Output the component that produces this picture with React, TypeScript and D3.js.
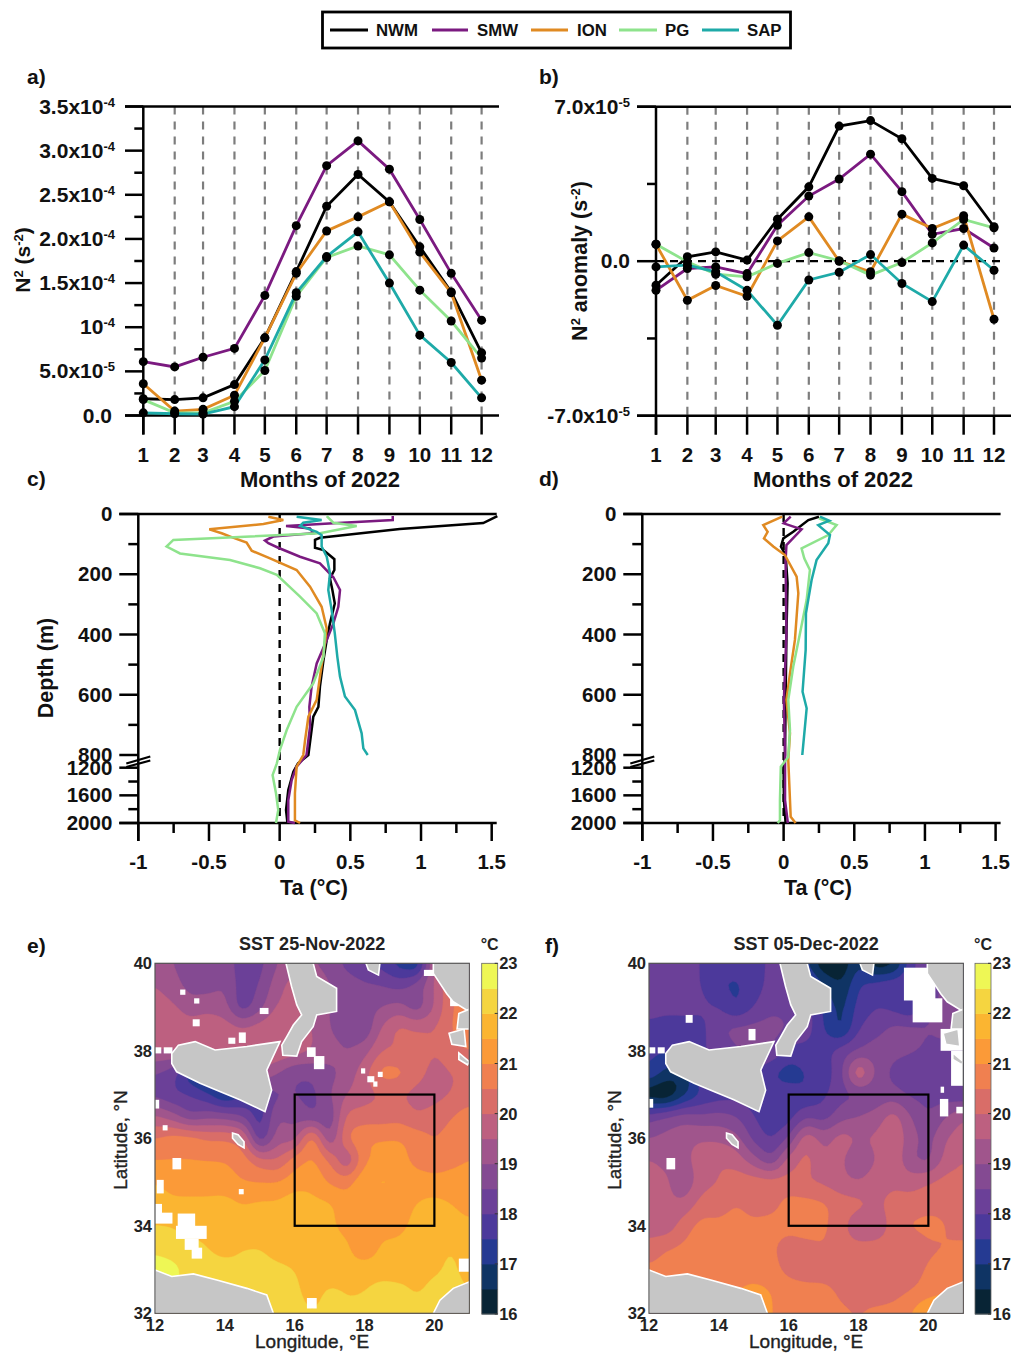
import React from "react";
import * as d3 from "d3";

const FONT = "'Liberation Sans', Arial, sans-serif";
const seriesNames = ["NWM", "SMW", "ION", "PG", "SAP"];
const seriesColors = ["#000000", "#7b1a80", "#e08a22", "#8ee38c", "#1eaaa8"];
const months = [1, 2, 3, 4, 5, 6, 7, 8, 9, 10, 11, 12];
const monthDays = [0, 31, 59, 90, 120, 151, 181, 212, 243, 273, 304, 334];

// Panel a, N2 in units of 1e-4 s-2
const a_NWM = [0.19, 0.18, 0.2, 0.35, 0.88, 1.63, 2.37, 2.73, 2.42, 1.91, 1.4, 0.71];
const a_SMW = [0.61, 0.55, 0.66, 0.76, 1.36, 2.15, 2.83, 3.11, 2.79, 2.22, 1.61, 1.08];
const a_ION = [0.36, 0.05, 0.07, 0.23, 0.88, 1.61, 2.09, 2.25, 2.42, 1.85, 1.39, 0.4];
const a_PG = [0.18, 0.03, 0.03, 0.16, 0.51, 1.35, 1.79, 1.92, 1.82, 1.42, 1.07, 0.65];
const a_SAP = [0.03, 0.02, 0.015, 0.1, 0.63, 1.39, 1.8, 2.08, 1.5, 0.91, 0.6, 0.2];

// Panel b, N2 anomaly in units of 1e-5 s-2
const b_NWM = [-1.09, 0.2, 0.42, 0.05, 1.9, 3.37, 6.12, 6.37, 5.55, 3.75, 3.42, 1.56];
const b_SMW = [-1.32, -0.33, -0.26, -0.56, 1.63, 2.95, 3.72, 4.85, 3.15, 1.22, 1.48, 0.6];
const b_ION = [0.77, -1.77, -1.1, -1.59, 0.92, 2.01, 0.0, -0.48, 2.13, 1.48, 2.06, -2.63];
const b_PG = [0.77, -0.03, -0.59, -0.71, -0.1, 0.39, 0.02, -0.63, -0.06, 0.83, 1.89, 1.51];
const b_SAP = [-0.26, -0.18, -0.48, -1.32, -2.9, -0.85, -0.5, 0.3, -1.01, -1.83, 0.73, -0.41];

// Panels c, d: [Ta, depth]
const c_NWM = [[1.54, 7], [1.44, 30], [0.85, 50], [0.285, 79], [0.25, 86], [0.25, 112], [0.31, 120], [0.387, 150], [0.387, 186], [0.356, 214], [0.373, 252], [0.39, 297], [0.356, 363], [0.333, 418], [0.31, 485], [0.285, 573], [0.274, 640], [0.238, 673], [0.203, 800], [0.13, 1063], [0.097, 1258], [0.061, 1523], [0.045, 1812], [0.054, 1980], [0.06, 2000]];
const c_SMW = [[0.8, 7], [0.8, 20], [0.38, 31], [0.045, 40], [0.215, 48], [0.238, 64], [-0.045, 75], [-0.104, 88], [-0.08, 97], [-0.01, 112], [0.144, 142], [0.285, 164], [0.38, 210], [0.427, 252], [0.415, 308], [0.38, 363], [0.333, 418], [0.262, 496], [0.226, 573], [0.21, 640], [0.215, 706], [0.19, 800], [0.12, 1170], [0.085, 1380], [0.061, 1670], [0.061, 1980], [0.108, 2000]];
const c_ION = [[-0.08, 9], [0.026, 20], [-0.115, 33], [-0.498, 51], [-0.41, 64], [-0.34, 77], [-0.234, 95], [-0.198, 122], [-0.068, 147], [0.12, 186], [0.215, 241], [0.297, 308], [0.333, 380], [0.31, 463], [0.285, 540], [0.262, 617], [0.203, 673], [0.18, 750], [0.167, 800], [0.12, 1170], [0.108, 1570], [0.108, 1960], [0.144, 2000]];
const c_PG = [[0.333, 7], [0.38, 29], [0.545, 40], [0.285, 64], [-0.752, 86], [-0.8, 108], [-0.705, 131], [-0.351, 153], [-0.139, 180], [-0.02, 202], [0.144, 274], [0.262, 330], [0.32, 396], [0.31, 474], [0.238, 562], [0.12, 640], [0.05, 717], [0.002, 783], [-0.02, 1063], [-0.05, 1306], [-0.026, 1570], [-0.01, 1812], [-0.026, 2000]];
const c_SAP = [[0.12, 9], [0.297, 20], [0.167, 29], [0.144, 40], [0.262, 59], [0.297, 70], [0.297, 108], [0.333, 142], [0.356, 197], [0.344, 252], [0.368, 319], [0.39, 396], [0.408, 474], [0.427, 540], [0.462, 606], [0.533, 651], [0.58, 728], [0.592, 778], [0.623, 800]];

const d_NWM = [[0.25, 9], [0.175, 20], [0.068, 59], [-0.002, 81], [-0.019, 108], [0.014, 136], [0.028, 230], [0.02, 396], [0.014, 617], [0.01, 800], [0.0, 1235], [0.002, 1670], [0.014, 2000]];
const d_SMW = [[0.05, 9], [0.0, 31], [0.127, 51], [0.02, 103], [0.014, 153], [0.02, 396], [0.002, 617], [0.01, 800], [0.01, 1670], [0.03, 2000]];
const d_ION = [[-0.01, 9], [-0.144, 37], [-0.113, 59], [-0.139, 81], [-0.073, 108], [0.009, 136], [0.092, 208], [0.104, 263], [0.08, 418], [0.045, 529], [0.02, 617], [0.045, 728], [0.033, 960], [0.04, 1426], [0.05, 1910], [0.085, 2000]];
const d_PG = [[0.25, 14], [0.375, 37], [0.316, 70], [0.127, 114], [0.146, 147], [0.186, 186], [0.163, 285], [0.116, 396], [0.068, 507], [0.033, 617], [0.045, 717], [0.033, 860], [-0.02, 1170], [-0.026, 1670], [-0.026, 1960], [-0.042, 2000]];
const d_SAP = [[0.257, 9], [0.323, 22], [0.245, 37], [0.328, 70], [0.316, 97], [0.233, 153], [0.198, 219], [0.158, 330], [0.156, 451], [0.134, 590], [0.163, 645], [0.151, 706], [0.132, 800]];

// SST colour classes, 16 to 23 °C in 0.5 °C steps
const sstThresholds = [16, 16.5, 17, 17.5, 18, 18.5, 19, 19.5, 20, 20.5, 21, 21.5, 22, 22.5];
const sstColors = ["#082435", "#0f3464", "#253a92", "#4c399b", "#6b4098", "#844a92", "#a0558c", "#bd6080", "#d96d68", "#f08050", "#fb9a38", "#fbb531", "#f5d540", "#eef755"];

// SST grids: rows lat 40..32 every 0.5°, columns lon 12..21 every 0.5°
const sstNov = [
  [19.2, 19, 18.7, 18.5, 18.8, 18.2, 18.3, 19, 19.2, 19, 18.8, 18.3, 18, 17.8, 17.2, 16.8, 19.7, 20.5, 20],
  [19.5, 19.2, 18.8, 18.8, 19, 18.2, 18.5, 19.3, 19.8, 19.5, 19, 18.8, 18.6, 18.5, 18.3, 18.8, 19.5, 20.5, 20.5],
  [19.8, 19.6, 19.2, 19.3, 19.2, 18.1, 18.8, 19.6, 19.6, 19.2, 19, 18.7, 18.8, 19, 19.2, 18.6, 19.5, 20.5, 20.8],
  [20, 20, 19.8, 20, 19.8, 19.6, 19.8, 20, 20, 19.5, 19, 18.6, 18.5, 19.6, 20.2, 20, 20, 20.5, 21],
  [19.5, 19.5, 19.8, 20, 20, 20, 20, 20, 19.8, 19.5, 19.3, 19, 19.3, 20, 20, 20.3, 20, 20.3, 20.5],
  [18.5, 18.2, 17, 16.3, 16.5, 19, 19.5, 19, 18.5, 18.6, 18.8, 19.2, 19.8, 20.8, 20.7, 20.2, 19.8, 20, 20],
  [18.3, 18, 18, 17.6, 16.8, 17.3, 18, 18.4, 18.5, 18.3, 19, 19.5, 19.8, 20, 20, 19.8, 19.8, 20, 20.2],
  [19.6, 19.2, 18.5, 18.8, 18.8, 18.5, 17.6, 19, 18.8, 18.5, 18.5, 20.2, 20.2, 20.2, 20.3, 20, 20.2, 20.5, 20.8],
  [20.5, 20.8, 20.8, 20.5, 20.5, 20.3, 17.9, 19.3, 19.2, 21, 18.8, 20.6, 21, 21, 21, 20.8, 20.5, 20.7, 20.8],
  [21, 21, 21, 21, 21, 20.8, 20.2, 20, 20.8, 21.1, 20.5, 19.3, 20.9, 21.2, 21.3, 20.7, 20.5, 20.8, 21],
  [21.5, 21.3, 21.3, 21.3, 21.2, 21, 21, 21, 21.3, 21.4, 20.9, 20.8, 21.5, 21.6, 21.5, 21.4, 21.3, 21.3, 21.3],
  [21.8, 21.6, 21.6, 21.6, 21.7, 21.5, 21.6, 21.6, 21.8, 21.6, 21.6, 21.2, 21.6, 21.2, 21.4, 21.5, 21.6, 21.5, 21.3],
  [22, 22, 21.8, 21.8, 21.7, 21.7, 21.7, 21.8, 22, 22, 21.6, 21.3, 21.5, 21.3, 21.4, 21.6, 21.7, 21.7, 21.6],
  [22.3, 22.2, 22.2, 22, 21.8, 22, 22, 21.8, 21.8, 21.8, 21.8, 21.6, 21, 21.6, 21.6, 21.7, 21.9, 22, 21.8],
  [22.9, 22.7, 22.3, 22.2, 22.2, 22.1, 22.2, 22.1, 22, 21.8, 21.7, 21.7, 21.8, 21.8, 21.7, 21.8, 21.9, 22.1, 21.8],
  [22.4, 22.4, 22.4, 22.4, 22.4, 22.5, 22.4, 22.3, 22.1, 21.8, 22.1, 22, 22, 22.2, 22.2, 21.9, 22.2, 22.2, 22],
  [22.4, 22.4, 22.4, 22.4, 22.4, 22.4, 22.3, 22.3, 22.2, 22, 22.2, 22, 22.1, 22.3, 22.3, 22.4, 22.3, 22.3, 22.2],
];
const sstDec = [
  [18.2, 18.1, 18.1, 18, 17.7, 17.7, 17.8, 18.1, 18.3, 17, 16, 16, 17, 16, 16.2, 17.8, 18.5, 18.5, 18.5],
  [18.3, 18.2, 18.2, 18, 17.5, 17.4, 17.7, 18.2, 18.4, 18, 17, 16.5, 17.5, 17.8, 18, 18, 18.5, 18.5, 18.5],
  [18.4, 18.3, 18.4, 18.1, 18, 17.4, 18, 18.4, 18.4, 18.3, 17.4, 16.8, 17.7, 18, 17.8, 17.4, 18.5, 18.5, 18.5],
  [17.7, 17.5, 17.4, 17.8, 18.5, 18.7, 18.7, 18.7, 18.5, 18.3, 17.5, 16.8, 18, 18.3, 18.7, 18.7, 18.5, 18.7, 18.5],
  [17.6, 17.6, 18, 18, 18, 18.5, 18.5, 18.5, 17.8, 17.8, 17.8, 18.3, 18.5, 18.8, 18.7, 18.6, 18.4, 18.3, 18.3],
  [17.5, 16.8, 16.5, 18, 18, 18, 18, 17.5, 17.2, 17.5, 17.7, 18.3, 20.3, 18.9, 18.3, 18, 18, 18.2, 18.2],
  [16, 15.8, 16.8, 17.5, 17.7, 17.8, 17.7, 17.7, 17.8, 17.5, 17.9, 18.3, 18.4, 18.6, 18.7, 18.4, 18.3, 18.2, 18],
  [18.3, 18.6, 18.8, 18.6, 18.7, 18.5, 18, 17.6, 17.7, 18.4, 18.2, 18.8, 19, 19.2, 19.8, 19, 18.5, 19, 19.5],
  [19, 19.2, 19.4, 19.5, 19.4, 19.2, 18.3, 17.9, 18.5, 20, 19.3, 19.8, 19.5, 19.6, 20, 19.2, 18.8, 19.5, 19.8],
  [19.5, 19.3, 19.4, 19.7, 20, 19.8, 19.2, 18.5, 19.8, 20.2, 19.6, 19.6, 19, 19.5, 19.9, 19, 18.8, 19.7, 20],
  [20, 19.6, 19, 19.8, 20, 20.3, 20.3, 20.3, 20.2, 20, 19.9, 19.6, 19.5, 19.8, 19.9, 19.8, 20, 20.2, 20.2],
  [20, 19.6, 19.6, 20.2, 20.3, 20.5, 20.3, 20.3, 20.7, 20.7, 20.6, 20.3, 20.2, 19.9, 20.2, 20.2, 20.3, 20.4, 20.3],
  [19.7, 19.6, 20.3, 20.7, 20.6, 20.7, 20.6, 20.7, 20.7, 20.8, 20.6, 20.2, 19.5, 19.6, 20.2, 20.6, 20.7, 20.5, 20.3],
  [20.2, 20.5, 20.6, 20.7, 20.7, 20.6, 20.6, 20.6, 20.2, 20.3, 20.5, 20.2, 20.2, 20.2, 20.2, 20, 20.4, 20.5, 20.6],
  [20.6, 20.7, 20.7, 20.7, 20.7, 20.7, 20.7, 20.7, 20.3, 20.2, 20.2, 20.2, 20.2, 20.3, 20.3, 20.2, 20.6, 20.7, 20.7],
  [20.8, 20.8, 20.8, 20.8, 20.8, 21, 21.2, 21, 20.8, 20.7, 20.7, 20.4, 20.2, 20.1, 20.3, 20.5, 20.7, 20.9, 21.1],
  [21, 21, 21, 21, 21, 21.2, 21.6, 21, 20.7, 20.7, 20.7, 20.6, 20.5, 20.7, 20.7, 21, 21.7, 21.7, 21.5],
];

// Land outlines as [lon, lat]
const landCalabria = [[15.75, 40], [15.91, 39.47], [16.06, 39.05], [16.2, 38.82], [15.96, 38.59], [15.77, 38.32], [15.63, 38.13], [15.66, 37.9], [16.06, 37.88], [16.2, 38.21], [16.53, 38.55], [16.63, 38.82], [17.2, 38.9], [17.2, 39.43], [16.63, 39.7], [16.53, 40]];
const landSalento = [[18.04, 40], [18.11, 39.85], [18.4, 39.73], [18.44, 40]];
const landSicily = [[12.48, 37.94], [12.67, 38.13], [13.15, 38.21], [13.72, 38.02], [14.63, 38.1], [15.58, 38.21], [15.2, 37.56], [15.34, 37.1], [15.15, 36.61], [14.43, 36.88], [13.77, 37.1], [13.29, 37.26], [12.62, 37.52], [12.48, 37.71]];
const landLibyaW = [[12, 32.99], [12.48, 32.84], [13.1, 32.9], [13.77, 32.76], [14.63, 32.57], [15.2, 32.42], [15.39, 32], [12, 32]];
const landLibyaE = [[19.97, 32], [20.16, 32.3], [20.54, 32.57], [21, 32.72], [21, 32]];
const landGreece = [[19.97, 40], [19.97, 39.77], [20.35, 39.31], [20.54, 39.12], [20.93, 38.93], [21, 38.93], [21, 40]];
const landMalta = [[14.22, 36.12], [14.38, 36.08], [14.55, 35.92], [14.55, 35.78], [14.38, 35.86], [14.22, 36]];
const landKefalonia = [[20.42, 38.4], [20.85, 38.5], [20.9, 38.1], [20.5, 38.15]];
const landZante = [[20.7, 37.95], [21, 37.75], [20.95, 37.68], [20.7, 37.8]];
const landLefkada = [[20.7, 38.85], [21, 38.95], [21, 38.5], [20.65, 38.5]];
const landAll = [landCalabria, landSalento, landSicily, landLibyaW, landLibyaE, landGreece, landMalta, landKefalonia, landZante, landLefkada];

// Cloud-masked patches as [lon, lat (top), dLon, dLat]
const cloudNov = [[12.72, 39.4, 0.15, 0.12], [13.12, 39.2, 0.15, 0.12], [13.08, 38.72, 0.2, 0.16], [15.0, 38.98, 0.25, 0.14], [14.4, 38.42, 0.2, 0.24], [14.1, 38.3, 0.2, 0.14], [12.0, 38.08, 0.18, 0.14], [12.25, 38.08, 0.25, 0.14], [16.35, 38.08, 0.25, 0.22], [16.55, 37.88, 0.3, 0.3], [17.9, 37.6, 0.12, 0.12], [18.08, 37.42, 0.2, 0.14], [18.38, 37.52, 0.14, 0.12], [18.25, 37.3, 0.12, 0.12], [12, 36.88, 0.12, 0.2], [12.22, 36.3, 0.14, 0.12], [12.5, 35.55, 0.25, 0.26], [12.05, 35.05, 0.2, 0.31], [14.4, 34.84, 0.14, 0.12], [12, 34.5, 0.2, 0.3], [12, 34.3, 0.5, 0.25], [12.65, 34.28, 0.5, 0.3], [12.6, 34, 0.88, 0.3], [12.85, 33.7, 0.4, 0.25], [13.05, 33.5, 0.3, 0.25], [20.7, 33.25, 0.3, 0.3], [16.35, 32.35, 0.28, 0.24], [19.7, 39.85, 0.3, 0.14], [20.45, 39.22, 0.25, 0.2]];
const cloudDec = [[12.0, 38.08, 0.18, 0.14], [12.25, 38.08, 0.2, 0.14], [13.05, 38.82, 0.2, 0.18], [14.85, 38.5, 0.2, 0.26], [12, 36.9, 0.12, 0.2], [12.5, 35.55, 0.25, 0.26], [19.3, 39.9, 0.9, 0.75], [19.55, 39.2, 0.85, 0.55], [20.35, 38.5, 0.65, 0.5], [20.65, 38, 0.35, 0.8], [20.35, 37.18, 0.1, 0.14], [20.33, 36.9, 0.24, 0.4], [20.8, 36.72, 0.2, 0.15]];

const yearTicksA = [0, 0.5, 1, 1.5, 2, 2.5, 3, 3.5];
const depthMajor = [0, 200, 400, 600, 800, 1200, 1600, 2000];
const depthMinor = [100, 300, 500, 700, 1400, 1800];
const taMajor = [-1, -0.5, 0, 0.5, 1, 1.5];
const taMinor = [-0.75, -0.25, 0.25, 0.75, 1.25];
const lonTicks = [12, 14, 16, 18, 20];
const latTicks = [32, 34, 36, 38, 40];
const barTicks = [16, 17, 18, 19, 20, 21, 22, 23];

const INK = "#111";
const AXW = 2.5;

const Sci = ({ x, y, base, exp, size = 21 }: any) => (
  <text x={x} y={y} textAnchor="end" fontFamily={FONT} fontWeight="bold" fontSize={size} fill={INK}>
    {base}
    {exp && <tspan dy={-7} fontSize={size * 0.62}>{exp}</tspan>}
  </text>
);

const MonthPanel = ({ left, right, x0, x1, yTop, yBot, domain, data, ticks, zero }: any) => {
  const x = d3.scaleLinear().domain([0, 334]).range([x0, x1]);
  const y = d3.scaleLinear().domain(domain).range([yBot, yTop]);
  const line = d3.line<number>().x((_, i) => x(monthDays[i])).y((v) => y(v));
  return (
    <g>
      {months.slice(1).map((m, i) => (
        <line key={m} x1={x(monthDays[i + 1])} x2={x(monthDays[i + 1])} y1={yTop} y2={yBot} stroke="#7d7d7d" strokeWidth={2.2} strokeDasharray="8 7" />
      ))}
      {zero && <line x1={x0} x2={right - 5} y1={y(0)} y2={y(0)} stroke="#000" strokeWidth={2.2} strokeDasharray="8 6" />}
      <line x1={left} x2={right} y1={yTop} y2={yTop} stroke="#000" strokeWidth={AXW} />
      <line x1={left} x2={right} y1={yBot} y2={yBot} stroke="#000" strokeWidth={AXW} />
      <line x1={x0} x2={x0} y1={yTop} y2={yBot + 19} stroke="#000" strokeWidth={AXW} />
      {ticks.map((t: any) => (
        <line key={t.v} x1={t.major ? left : x0 - 9} x2={x0} y1={y(t.v)} y2={y(t.v)} stroke="#000" strokeWidth={AXW} />
      ))}
      {months.map((m, i) => (
        <g key={m}>
          <line x1={x(monthDays[i])} x2={x(monthDays[i])} y1={yBot} y2={yBot + 19} stroke="#000" strokeWidth={AXW} />
          <text x={x(monthDays[i])} y={yBot + 46} textAnchor="middle" fontFamily={FONT} fontWeight="bold" fontSize={20.5} fill={INK}>{m}</text>
        </g>
      ))}
      {data.map((s: number[], i: number) => (
        <path key={i} d={line(s) || ""} fill="none" stroke={seriesColors[i]} strokeWidth={2.8} />
      ))}
      {data.map((s: number[], i: number) =>
        s.map((v, j) => <circle key={`${i}-${j}`} cx={x(monthDays[j])} cy={y(v)} r={4.5} fill="#000" />)
      )}
    </g>
  );
};

const ProfilePanel = ({ x0, x1, data }: any) => {
  const top = 514;
  const x = d3.scaleLinear().domain([-1, 1.5]).range([x0, x1]);
  const y = d3.scaleLinear().domain([0, 800, 1200, 2000]).range([top, 755, 767.7, 823]);
  const line = d3.line<number[]>().x((d) => x(d[0])).y((d) => y(d[1]));
  return (
    <g>
      <line x1={x(0)} x2={x(0)} y1={top} y2={823} stroke="#000" strokeWidth={2.4} strokeDasharray="8 6" />
      <line x1={x0 - 19} x2={x1 + 5} y1={top} y2={top} stroke="#000" strokeWidth={AXW} />
      <line x1={x0 - 19} x2={x1 + 5} y1={823} y2={823} stroke="#000" strokeWidth={AXW} />
      <line x1={x0} x2={x0} y1={top} y2={841} stroke="#000" strokeWidth={AXW} />
      {depthMajor.map((d) => (
        <g key={d}>
          <line x1={x0 - 19} x2={x0} y1={y(d)} y2={y(d)} stroke="#000" strokeWidth={AXW} />
          <text x={x0 - 26} y={y(d) + 7} textAnchor="end" fontFamily={FONT} fontWeight="bold" fontSize={20.5} fill={INK}>{d}</text>
        </g>
      ))}
      {depthMinor.map((d) => (
        <line key={d} x1={x0 - 10} x2={x0} y1={y(d)} y2={y(d)} stroke="#000" strokeWidth={AXW} />
      ))}
      {taMajor.map((t) => (
        <g key={t}>
          <line x1={x(t)} x2={x(t)} y1={823} y2={841} stroke="#000" strokeWidth={AXW} />
          <text x={x(t)} y={869} textAnchor="middle" fontFamily={FONT} fontWeight="bold" fontSize={20.5} fill={INK}>{t}</text>
        </g>
      ))}
      {taMinor.map((t) => (
        <line key={t} x1={x(t)} x2={x(t)} y1={823} y2={833} stroke="#000" strokeWidth={AXW} />
      ))}
      <line x1={x0 - 12} x2={x0 + 12} y1={763.5} y2={756.5} stroke="#000" strokeWidth={2.2} />
      <line x1={x0 - 12} x2={x0 + 12} y1={767} y2={760.5} stroke="#000" strokeWidth={2.2} />
      {data.map((s: number[][], i: number) => (
        <path key={i} d={line(s) || ""} fill="none" stroke={seriesColors[i]} strokeWidth={2.5} />
      ))}
    </g>
  );
};

// Resample the read grid by a factor k and soften it so the filled bands follow rounded contours.
const K = 5;
function smoothField(grid: number[][]) {
  const rows = grid.length, cols = grid[0].length;
  const W = (cols - 1) * K + 1, H = (rows - 1) * K + 1;
  const data = new Float64Array(W * H);
  for (let j = 0; j < H; j++) {
    const gy = j / K, y0 = Math.min(Math.floor(gy), rows - 2), fy = gy - y0;
    for (let i = 0; i < W; i++) {
      const gx = i / K, x0 = Math.min(Math.floor(gx), cols - 2), fx = gx - x0;
      data[j * W + i] =
        grid[y0][x0] * (1 - fx) * (1 - fy) + grid[y0][x0 + 1] * fx * (1 - fy) +
        grid[y0 + 1][x0] * (1 - fx) * fy + grid[y0 + 1][x0 + 1] * fx * fy;
    }
  }
  d3.blur2({ data, width: W, height: H }, 0.9);
  return { data, W, H };
}

const SstMap = ({ px0, px1, grid, clouds, id, title, cbX }: any) => {
  const x = d3.scaleLinear().domain([12, 21]).range([px0, px1]);
  const y = d3.scaleLinear().domain([32, 40]).range([1313.3, 963.3]);
  const f = smoothField(grid);
  const contours = d3.contours().size([f.W, f.H]).thresholds(sstThresholds)(Array.from(f.data));
  const proj = d3.geoTransform({
    point(cx: number, cy: number) {
      // @ts-ignore
      this.stream.point(x(12 + ((cx - 0.5) / K) * 0.5), y(40 - ((cy - 0.5) / K) * 0.5));
    },
  });
  const path = d3.geoPath(proj);
  const poly = d3.line<number[]>().x((d) => x(d[0])).y((d) => y(d[1]));
  const barY = d3.scaleLinear().domain([16, 23]).range([1314, 963.3]);
  const boxX0 = x(16), boxX1 = x(20), boxY0 = y(37), boxY1 = y(34);
  return (
    <g>
      <defs>
        <clipPath id={id}><rect x={px0} y={963.3} width={px1 - px0} height={350} /></clipPath>
      </defs>
      <g clipPath={`url(#${id})`}>
        <rect x={px0} y={963.3} width={px1 - px0} height={350} fill={sstColors[0]} />
        {contours.map((c: any, i: number) => (
          <path key={i} d={path(c) || ""} fill={sstColors[i]} stroke={sstColors[i]} strokeWidth={0.4} />
        ))}
        {clouds.map((c: number[], i: number) => (
          <rect key={i} x={x(c[0])} y={y(c[1])} width={x(c[0] + c[2]) - x(c[0])} height={y(c[1] - c[3]) - y(c[1])} fill="#fff" />
        ))}
        {landAll.map((p, i) => (
          <path key={i} d={(poly(p) || "") + "Z"} fill="#c6c6c6" stroke="#fff" strokeWidth={1.6} />
        ))}
      </g>
      <rect x={px0} y={963.3} width={px1 - px0} height={350} fill="none" stroke="#555" strokeWidth={1.2} />
      <rect x={boxX0} y={boxY0} width={boxX1 - boxX0} height={boxY1 - boxY0} fill="none" stroke="#000" strokeWidth={2.2} />
      <text x={(px0 + px1) / 2} y={950} textAnchor="middle" fontFamily={FONT} fontSize={18} fontWeight="bold" fill="#222">{title}</text>
      {latTicks.map((t) => (
        <text key={t} x={px0 - 3} y={y(t) + 6} textAnchor="end" fontFamily={FONT} fontWeight="bold" fontSize={16.5} fill="#222">{t}</text>
      ))}
      {lonTicks.map((t) => (
        <text key={t} x={x(t)} y={1331} textAnchor="middle" fontFamily={FONT} fontWeight="bold" fontSize={16.5} fill="#222">{t}</text>
      ))}
      <text transform={`translate(${px0 - 28},1140) rotate(-90)`} textAnchor="middle" fontFamily={FONT} fontSize={19} stroke="#222" strokeWidth={0.35} fill="#222">Latitude, °N</text>
      <text x={(px0 + px1) / 2} y={1348} textAnchor="middle" fontFamily={FONT} fontSize={19} stroke="#222" strokeWidth={0.35} fill="#222">Longitude, °E</text>
      {sstColors.map((c, i) => (
        <rect key={c} x={cbX} y={barY(sstThresholds[i] + 0.5)} width={16} height={barY(sstThresholds[i]) - barY(sstThresholds[i] + 0.5) + 0.5} fill={c} />
      ))}
      <rect x={cbX} y={963.3} width={16} height={350.7} fill="none" stroke="#666" strokeWidth={0.8} />
      {barTicks.map((t) => (
        <g key={t}>
          <line x1={cbX + 13} x2={cbX + 16} y1={barY(t)} y2={barY(t)} stroke="#333" strokeWidth={1} />
          <text x={cbX + 17.5} y={barY(t) + 6} fontFamily={FONT} fontWeight="bold" fontSize={16.5} fill="#222">{t}</text>
        </g>
      ))}
      <text x={cbX + 8} y={950} textAnchor="middle" fontFamily={FONT} fontWeight="bold" fontSize={16} fill="#222">°C</text>
    </g>
  );
};

const Label = ({ x, y, t }: any) => (
  <text x={x} y={y} fontFamily={FONT} fontWeight="bold" fontSize={21} fill={INK}>{t}</text>
);

const legendItems = [
  { line: [330, 368], text: 376 },
  { line: [432, 468], text: 477 },
  { line: [531, 568], text: 577 },
  { line: [619, 657], text: 665 },
  { line: [702, 739], text: 747 },
];

export default function App() {
  const ticksA = d3.range(0, 3.75, 0.25).map((v) => ({ v, major: Math.abs(v / 0.5 - Math.round(v / 0.5)) < 1e-6 }));
  const ticksB = [-7, -3.5, 0, 3.5, 7].map((v) => ({ v, major: v % 7 === 0 }));
  const yA = d3.scaleLinear().domain([0, 3.5]).range([415.5, 106.5]);
  return (
    <svg width={1014} height={1354} style={{ position: "absolute", left: 0, top: 0, background: "#fff" }}>
      <rect x={322.5} y={12} width={468} height={36} fill="#fff" stroke="#000" strokeWidth={2.8} />
      {legendItems.map((l, i) => (
        <g key={i}>
          <line x1={l.line[0]} x2={l.line[1]} y1={30} y2={30} stroke={seriesColors[i]} strokeWidth={2.8} />
          <text x={l.text} y={36} fontFamily={FONT} fontWeight="bold" fontSize={16.8} fill={INK}>{seriesNames[i]}</text>
        </g>
      ))}

      <Label x={27} y={84} t="a)" />
      <Label x={539} y={84} t="b)" />
      <Label x={27} y={486} t="c)" />
      <Label x={539} y={486} t="d)" />
      <Label x={27} y={953} t="e)" />
      <Label x={545} y={953} t="f)" />

      <MonthPanel left={125} right={499} x0={143.3} x1={481.6} yTop={106.5} yBot={415.5} domain={[0, 3.5]} data={[a_NWM, a_SMW, a_ION, a_PG, a_SAP]} ticks={ticksA} />
      {yearTicksA.map((t) => {
        const lab = t === 0 ? "0.0" : t === 1 ? "10" : t === 0.5 ? "5.0x10" : `${t.toFixed(1)}x10`;
        const exp = t === 0 ? "" : t === 0.5 ? "-5" : "-4";
        return <Sci key={t} x={t === 0 ? 112 : 115} y={yA(t) + 7} base={lab} exp={exp} />;
      })}
      <text transform="translate(30,260) rotate(-90)" textAnchor="middle" fontFamily={FONT} fontWeight="bold" fontSize={21} fill={INK}>
        N<tspan dy={-7} fontSize={13}>2</tspan><tspan dy={7}> (s</tspan><tspan dy={-7} fontSize={13}>-2</tspan><tspan dy={7}>)</tspan>
      </text>
      <text x={320} y={487} textAnchor="middle" fontFamily={FONT} fontWeight="bold" fontSize={22} fill={INK}>Months of 2022</text>

      <MonthPanel left={637} right={1011} x0={656} x1={994} yTop={106.7} yBot={415.7} domain={[-7, 7]} data={[b_NWM, b_SMW, b_ION, b_PG, b_SAP]} ticks={ticksB} zero />
      <Sci x={630} y={114} base="7.0x10" exp="-5" />
      <Sci x={630} y={268} base="0.0" exp="" />
      <Sci x={630} y={423} base="-7.0x10" exp="-5" />
      <text transform="translate(587,261) rotate(-90)" textAnchor="middle" fontFamily={FONT} fontWeight="bold" fontSize={21.5} fill={INK}>
        N<tspan dy={-7} fontSize={13}>2</tspan><tspan dy={7}> anomaly (s</tspan><tspan dy={-7} fontSize={13}>-2</tspan><tspan dy={7}>)</tspan>
      </text>
      <text x={833} y={487} textAnchor="middle" fontFamily={FONT} fontWeight="bold" fontSize={22} fill={INK}>Months of 2022</text>

      <ProfilePanel x0={138.3} x1={491.7} data={[c_NWM, c_SMW, c_ION, c_PG, c_SAP]} />
      <ProfilePanel x0={642.3} x1={995.6} data={[d_NWM, d_SMW, d_ION, d_PG, d_SAP]} />
      <text transform="translate(53,668) rotate(-90)" textAnchor="middle" fontFamily={FONT} fontWeight="bold" fontSize={21.5} fill={INK}>Depth (m)</text>
      <text x={314} y={895} textAnchor="middle" fontFamily={FONT} fontWeight="bold" fontSize={21.5} fill={INK}>Ta (°C)</text>
      <text x={818} y={895} textAnchor="middle" fontFamily={FONT} fontWeight="bold" fontSize={21.5} fill={INK}>Ta (°C)</text>

      <SstMap px0={155} px1={469.3} grid={sstNov} clouds={cloudNov} id="clipE" title="SST 25-Nov-2022" cbX={481.7} />
      <SstMap px0={649} px1={963.3} grid={sstDec} clouds={cloudDec} id="clipF" title="SST 05-Dec-2022" cbX={975} />
    </svg>
  );
}
